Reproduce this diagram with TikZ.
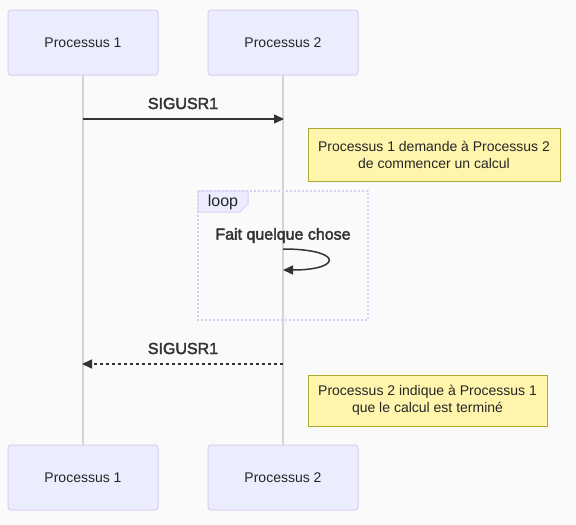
\documentclass[tikz,border=0pt]{standalone}
\usepackage{fontspec}
\setmainfont{Liberation Sans}
\newfontfamily\msgfont[FakeBold=2.5]{Liberation Sans}
\usetikzlibrary{arrows.meta}
\definecolor{bgc}{RGB}{250,250,250}
\definecolor{actfill}{HTML}{ECECFF}
\definecolor{actdraw}{HTML}{DACEF3}
\definecolor{lifec}{HTML}{D3D3D3}
\definecolor{msgc}{HTML}{333333}
\definecolor{notefill}{HTML}{FFF5AD}
\definecolor{notedraw}{HTML}{AAAA33}
\tikzset{
  actor/.style={draw=actdraw, fill=actfill, line width=1pt, rounded corners=3pt,
    minimum width=150pt, minimum height=65pt, inner sep=0pt,
    font=\fontsize{14pt}{16pt}\selectfont, text=black!85},
  lifeline/.style={draw=lifec, line width=1.5pt},
  msg/.style={draw=msgc, line width=1.5pt, -{Triangle[length=10pt,width=9pt]}},
  msgtext/.style={font=\msgfont\fontsize{16pt}{18pt}\selectfont, text=msgc, inner sep=0pt},
  notebox/.style={draw=notedraw, fill=notefill, line width=1pt, inner sep=0pt,
    align=center, font=\fontsize{14pt}{17pt}\selectfont, text=black!85},
  loopline/.style={draw=actdraw, line width=1.5pt, dash pattern=on 2pt off 2pt},
}
\begin{document}
\begin{tikzpicture}[x=1pt,y=-1pt]
\fill[bgc] (0,0) rectangle (576,525);
\useasboundingbox (0,0) rectangle (576,525);
% lifelines
\coordinate (l1t) at (83,75);
\coordinate (l1b) at (83,445);
\coordinate (l2t) at (283,75);
\coordinate (l2b) at (283,445);
\draw[lifeline] (l1t) -- (l1b);
\draw[lifeline] (l2t) -- (l2b);
% actors
\node[actor] (a1t) at (83,42.5) {Processus 1};
\node[actor] (a2t) at (283,42.5) {Processus 2};
\node[actor] (a1b) at (83,477.5) {Processus 1};
\node[actor] (a2b) at (283,477.5) {Processus 2};
% message 1
\coordinate (m1s) at (83,119);
\coordinate (m1e) at (284,119);
\draw[msg] (m1s) -- (m1e);
\node[msgtext] (m1t) at (183,103.5) {SIGUSR1};
% note 1
\node[notebox, minimum width=252pt, minimum height=53pt] (n1) at (434,154.5)
  {Processus 1 demande à Processus 2\\de commencer un calcul};
% loop box
\draw[loopline] (198,191) rectangle (368,320);
\path[fill=actfill, draw=actdraw, line width=1pt] (198,191) -- (248,191) -- (248,204) -- (240,212) -- (198,212) -- cycle;
\node[font=\fontsize{16pt}{18pt}\selectfont, text=black!85, inner sep=0pt] (looplbl) at (223,202.5) {loop};
% self message
\node[msgtext] (m2t) at (283,235.5) {Fait quelque chose};
\coordinate (s1) at (283,249);
\coordinate (s2) at (283,270);
\draw[msg, line width=1.5pt] (s1) .. controls (343,249) and (343,270) .. (s2);
% message 2
\coordinate (m3s) at (283,364);
\coordinate (m3e) at (82,364);
\draw[msg, dash pattern=on 3pt off 3pt] (m3s) -- (m3e);
\node[msgtext] (m3t) at (183,348.5) {SIGUSR1};
% note 2
\node[notebox, minimum width=239pt, minimum height=51pt] (n2) at (427.5,400.5)
  {Processus 2 indique à Processus 1\\que le calcul est terminé};
\end{tikzpicture}
\end{document}
